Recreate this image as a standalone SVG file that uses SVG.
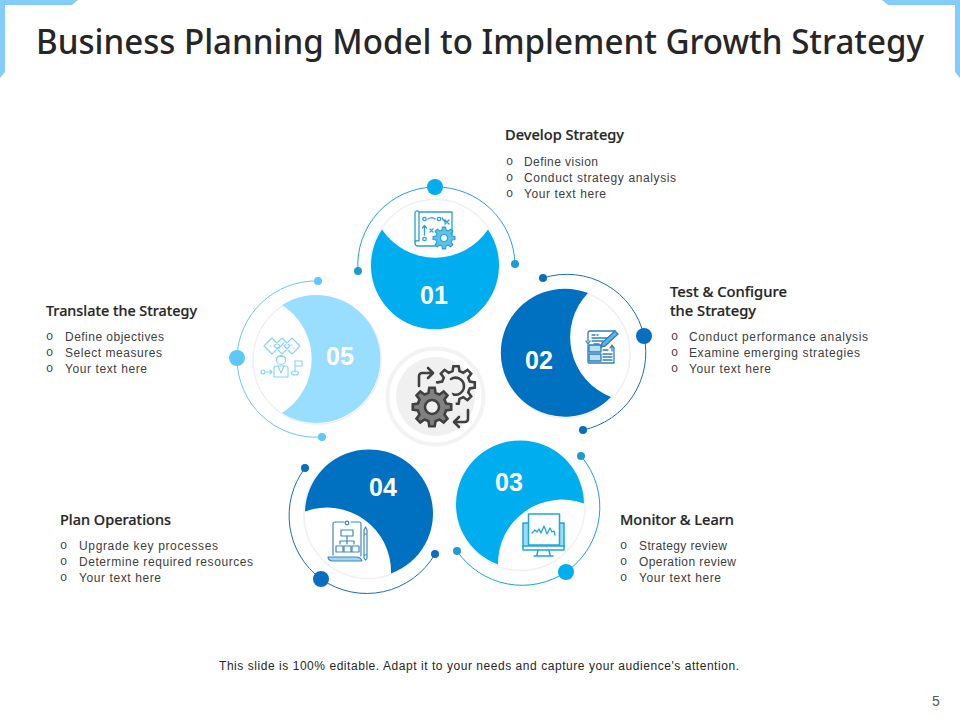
<svg xmlns="http://www.w3.org/2000/svg" xmlns:xlink="http://www.w3.org/1999/xlink" width="960" height="720" viewBox="0 0 960 720">
<style>
.t{font-family:"Noto Sans","Liberation Sans",sans-serif;font-size:34px;font-weight:500;fill:#262626}
.h{font-family:"Noto Sans","Liberation Sans",sans-serif;font-size:14px;font-weight:500;fill:#262626;stroke:#262626;stroke-width:.2}
.b{font-family:"Liberation Sans",Arial,sans-serif;font-size:12px;fill:#404040}
.o{font-family:"Liberation Mono","Courier New",monospace;font-size:12px;fill:#404040}
.n{font-family:"Liberation Sans",Arial,sans-serif;font-size:25px;font-weight:700;fill:#fff;text-anchor:middle}
.ring{fill:none;stroke:#f0f0f0;stroke-width:1.5}
.arc{fill:none;stroke-width:1}
.i1{fill:none;stroke:#2a9fd6;stroke-width:1.3;stroke-linejoin:round;stroke-linecap:round}
.i2{fill:none;stroke:#2f7fb8;stroke-width:1.3;stroke-linejoin:round;stroke-linecap:round}
.i3{fill:none;stroke:#21a5dc;stroke-width:1.5;stroke-linejoin:round;stroke-linecap:round}
.i4{fill:none;stroke:#3d89bf;stroke-width:1.2;stroke-linejoin:round;stroke-linecap:round}
.i5{fill:none;stroke:#86d3f3;stroke-width:1.1;stroke-linejoin:round;stroke-linecap:round}
.dk{fill:none;stroke:#404040;stroke-width:2.6;stroke-linecap:round;stroke-linejoin:round}
</style>
<defs>
<polygon id="gear" points="-3.63,-14.55 -2.78,-19.81 2.78,-19.81 3.63,-14.55 7.73,-12.86 12.04,-15.97 15.97,-12.04 12.86,-7.73 14.55,-3.63 19.81,-2.78 19.81,2.78 14.55,3.63 12.86,7.73 15.97,12.04 12.04,15.97 7.73,12.86 3.63,14.55 2.78,19.81 -2.78,19.81 -3.63,14.55 -7.73,12.86 -12.04,15.97 -15.97,12.04 -12.86,7.73 -14.55,3.63 -19.81,2.78 -19.81,-2.78 -14.55,-3.63 -12.86,-7.73 -15.97,-12.04 -12.04,-15.97 -7.73,-12.86"/>
</defs>
<rect width="960" height="720" fill="#fff"/>
<g id="frame" fill="#85cbfb">
<polygon points="0,0 78,0 72,5 5,5 5,72 0,78"/>
<polygon points="960,0 882,0 888,5 955,5 955,72 960,78"/>
</g>
<text class="t" x="36" y="54" textLength="888" lengthAdjust="spacingAndGlyphs">Business Planning Model to Implement Growth Strategy</text>

<g id="connectors">
<path class="arc" stroke="#2a9fd6" d="M358,271A78,78 0 0 1 435,187A79,79 0 0 1 515,264"/>
<path class="arc" stroke="#1b6fae" d="M543,278A79,79 0 0 1 644,336A79,79 0 0 1 583,430"/>
<path class="arc" stroke="#1f9fd6" d="M581,456A79,79 0 0 1 566,572A79,79 0 0 1 457,551"/>
<path class="arc" stroke="#1b6fae" d="M305,468A79,79 0 0 0 321,579A79,79 0 0 0 435,554"/>
<path class="arc" stroke="#6cc5ee" d="M318,281A79,79 0 0 0 237,358A79,79 0 0 0 322,437"/>
<g fill="#00aeef"><circle cx="435" cy="187" r="8"/><circle cx="566" cy="572" r="8"/></g>
<g fill="#1e9bd1"><circle cx="358" cy="271" r="4"/><circle cx="515" cy="264" r="4"/><circle cx="581" cy="456" r="4"/><circle cx="457" cy="551" r="4"/></g>
<g fill="#0a6dbd"><circle cx="644" cy="336" r="8"/><circle cx="321" cy="579" r="8"/><circle cx="543" cy="278" r="4"/><circle cx="583" cy="430" r="4"/><circle cx="305" cy="468" r="4"/><circle cx="435" cy="554" r="4"/></g>
<g fill="#5cc8fb"><circle cx="237" cy="358" r="8"/><circle cx="318" cy="281" r="4"/><circle cx="322" cy="437" r="4"/></g>
</g>

<g id="center">
<circle cx="435.500" cy="396.500" r="48" fill="#fff" stroke="#f3f3f3" stroke-width="4"/>
<circle cx="435.500" cy="396.500" r="39.500" fill="#f0f0f0"/>
<use href="#gear" xlink:href="#gear" transform="translate(456,385) scale(.95)" fill="none" stroke="#404040" stroke-width="2.700"/>
<path class="dk" d="M451,379A8.500,8.500 0 1 1 452,394"/>
<circle cx="432" cy="407" r="24" fill="#f0f0f0"/>
<use href="#gear" xlink:href="#gear" transform="translate(432,407) scale(.97)" fill="#808080" stroke="#404040" stroke-width="2.700"/>
<circle cx="432" cy="407" r="7" fill="#f0f0f0" stroke="#404040" stroke-width="2.600"/>
<path class="dk" d="M419,386V376a3,3 0 0 1 3,-3H432M428,368l5,5-5,5"/>
<path class="dk" d="M468,410V419a3,3 0 0 1 -3,3H455M459,417l-5,5 5,5"/>
</g>

<g id="node-01">
<circle class="ring" cx="435" cy="263.500" r="64"/>
<path fill="#00aeef" d="M382,229.500A64,64 0 1 0 488,229.500A64,64 0 0 1 382,229.500Z"/>
<text class="n" x="434" y="304">01</text>
<g class="i1">
<path d="M419,212h33v23M419,212c-2,-2 -4,-1 -4,1v30c0,-2 2,-3 4,-2zM419,212v29M415,243c0,2 1,3 3,3h18"/>
<circle cx="424.500" cy="219" r="1.700"/><circle cx="424.500" cy="239" r="1.700"/><circle cx="439" cy="219" r="1.700"/>
<path d="M435,219c-2,-2 -4,-2 -7,0M424.500,235v-9M422.500,228l2,-2.500 2,2.500M430,229l3,3M433,229l-3,3M445,220l4,4M449,220l-4,4M442,218l3,4"/>
</g>
<use href="#gear" xlink:href="#gear" transform="translate(444,238) scale(.55)" fill="#5cc2ec" stroke="#2a9fd6" stroke-width="2.200"/>
<circle cx="444" cy="238" r="3.500" fill="#fff" stroke="#2a9fd6" stroke-width="1.200"/>
</g>

<g id="node-02">
<circle class="ring" cx="566" cy="354" r="64"/>
<path fill="#0070c0" d="M611,397A64,64 0 1 1 588,293A64,64 0 0 0 611,397Z"/>
<text class="n" x="539" y="369">02</text>
<g class="i2">
<path d="M588,341V333a2,2 0 0 1 2,-2H615M588,345v17a1,1 0 0 0 1,1H614V348"/>
<path d="M592,335h3M597,335h1M592,338h16M592,341h11M594,344h5"/>
<path d="M586,341l2,3 2,-3"/>
<rect x="589" y="345" width="12" height="7" fill="#b5e0f7"/><rect x="589" y="354" width="12" height="7" fill="#b5e0f7"/>
<path d="M603,350h5M603,354h9M603,357h9M603,360h9M612,351v-5M610,348l2,-3 2,3"/>
<path d="M602,343l13,-12 3,3 -13,12 -4,1z" fill="#5cb3e6"/>
</g>
</g>

<g id="node-03">
<circle class="ring" cx="521" cy="506.500" r="64"/>
<path fill="#00aeef" d="M498,564.500A64,64 0 1 1 584,503.500A64,64 0 0 0 498,564.500Z"/>
<text class="n" x="509" y="491">03</text>
<g class="i3">
<path d="M528,523h-5v24h41V523h-5" fill="#9bdcf7"/>
<rect x="528.500" y="514" width="31" height="31" fill="#fff"/>
<rect x="523" y="546" width="41" height="4" fill="#fff"/>
<path d="M538,550l-1,5M549,550l1,5M534,556h19"/>
<path d="M532,533l3,-3 2,2 2,-3 2,4 3,-7 3,8 3,-6 2,4 2,-1 1,4" stroke-width="1.300"/>
</g>
</g>

<g id="node-04">
<circle class="ring" cx="368" cy="514.500" r="64"/>
<path fill="#0070c0" d="M305,511.500A64,64 0 1 1 391,573.500A64,64 0 0 0 305,511.500Z"/>
<text class="n" x="383" y="496">04</text>
<g class="i4">
<path d="M333,555V524a2,2 0 0 1 2,-2H344M351,522h8a2,2 0 0 1 2,2V556"/>
<circle cx="347" cy="523" r="1.800"/>
<path d="M328,557H356c2,0 5,1 6,4H332c-2,0 -4,-2 -4,-4z" fill="#a5d5f2"/>
<rect x="341" y="530" width="12" height="6"/>
<path d="M347,536v5M340,544v-3h14v3M347,541v3"/>
<rect x="336" y="546" width="7" height="6"/><rect x="344" y="546" width="7" height="6"/><rect x="352" y="546" width="7" height="6"/>
<path d="M364,530l1.500,-3 1.500,3v28l-1.500,2 -1.500,-2zM364,534h3M364,555h3"/>
</g>
</g>

<g id="node-05">
<circle class="ring" cx="317" cy="360" r="64"/>
<path fill="#99ddff" d="M282,305A64,64 0 1 1 282,413A64,64 0 0 0 282,305Z"/>
<text class="n" x="340" y="365">05</text>
<g class="i5">
<path d="M272,338l8,8 -8,8 -8,-8zM282,338l8,8 -8,8 -8,-8zM292,338l8,8 -8,8 -8,-8z"/>
<path d="M278,349l3,-3 3,-3M270,346h1M291,345h1M293,348h1"/>
<circle cx="281" cy="360" r="4.500"/>
<path d="M276,358c2,-2 8,-2 10,0M274,377V368a2,2 0 0 1 2,-2H286a2,2 0 0 1 2,2v9zM278,366l3,7 3,-7"/>
<circle cx="263" cy="372" r="2"/>
<path d="M266,372h6M270,370l2,2 -2,2M295,372v-11h7v5h-7"/>
<ellipse cx="295" cy="373" rx="3.500" ry="2"/>
</g>
</g>

<g id="label-01">
<text class="h" x="505" y="140" textLength="119" lengthAdjust="spacingAndGlyphs">Develop Strategy</text>
<text class="o" x="506" y="165">o</text><text class="b" x="524" y="166" textLength="74">Define vision</text>
<text class="o" x="506" y="181">o</text><text class="b" x="524" y="182" textLength="152">Conduct strategy analysis</text>
<text class="o" x="506" y="197">o</text><text class="b" x="524" y="198" textLength="82">Your text here</text>
</g>
<g id="label-02">
<text class="h" x="670" y="297" textLength="117" lengthAdjust="spacingAndGlyphs">Test &amp; Configure</text>
<text class="h" x="670" y="316" textLength="86" lengthAdjust="spacingAndGlyphs">the Strategy</text>
<text class="o" x="671" y="340">o</text><text class="b" x="689" y="341" textLength="179">Conduct performance analysis</text>
<text class="o" x="671" y="356">o</text><text class="b" x="689" y="357" textLength="171">Examine emerging strategies</text>
<text class="o" x="671" y="372">o</text><text class="b" x="689" y="373" textLength="82">Your text here</text>
</g>
<g id="label-03">
<text class="h" x="620" y="525" textLength="114" lengthAdjust="spacingAndGlyphs">Monitor &amp; Learn</text>
<text class="o" x="620" y="549">o</text><text class="b" x="639" y="550" textLength="88">Strategy review</text>
<text class="o" x="620" y="565">o</text><text class="b" x="639" y="566" textLength="97">Operation review</text>
<text class="o" x="620" y="581">o</text><text class="b" x="639" y="582" textLength="82">Your text here</text>
</g>
<g id="label-04">
<text class="h" x="60" y="525" textLength="111" lengthAdjust="spacingAndGlyphs">Plan Operations</text>
<text class="o" x="60" y="549">o</text><text class="b" x="79" y="550" textLength="139">Upgrade key processes</text>
<text class="o" x="60" y="565">o</text><text class="b" x="79" y="566" textLength="174">Determine required resources</text>
<text class="o" x="60" y="581">o</text><text class="b" x="79" y="582" textLength="82">Your text here</text>
</g>
<g id="label-05">
<text class="h" x="46" y="316" textLength="151" lengthAdjust="spacingAndGlyphs">Translate the Strategy</text>
<text class="o" x="46" y="340">o</text><text class="b" x="65" y="341" textLength="99">Define objectives</text>
<text class="o" x="46" y="356">o</text><text class="b" x="65" y="357" textLength="97">Select measures</text>
<text class="o" x="46" y="372">o</text><text class="b" x="65" y="373" textLength="82">Your text here</text>
</g>
<text class="b" x="219" y="670" textLength="520" style="fill:#262626">This slide is 100% editable. Adapt it to your needs and capture your audience's attention.</text>
<text x="932" y="706" font-family="Liberation Sans, Arial, sans-serif" font-size="14" fill="#595959">5</text>
</svg>
